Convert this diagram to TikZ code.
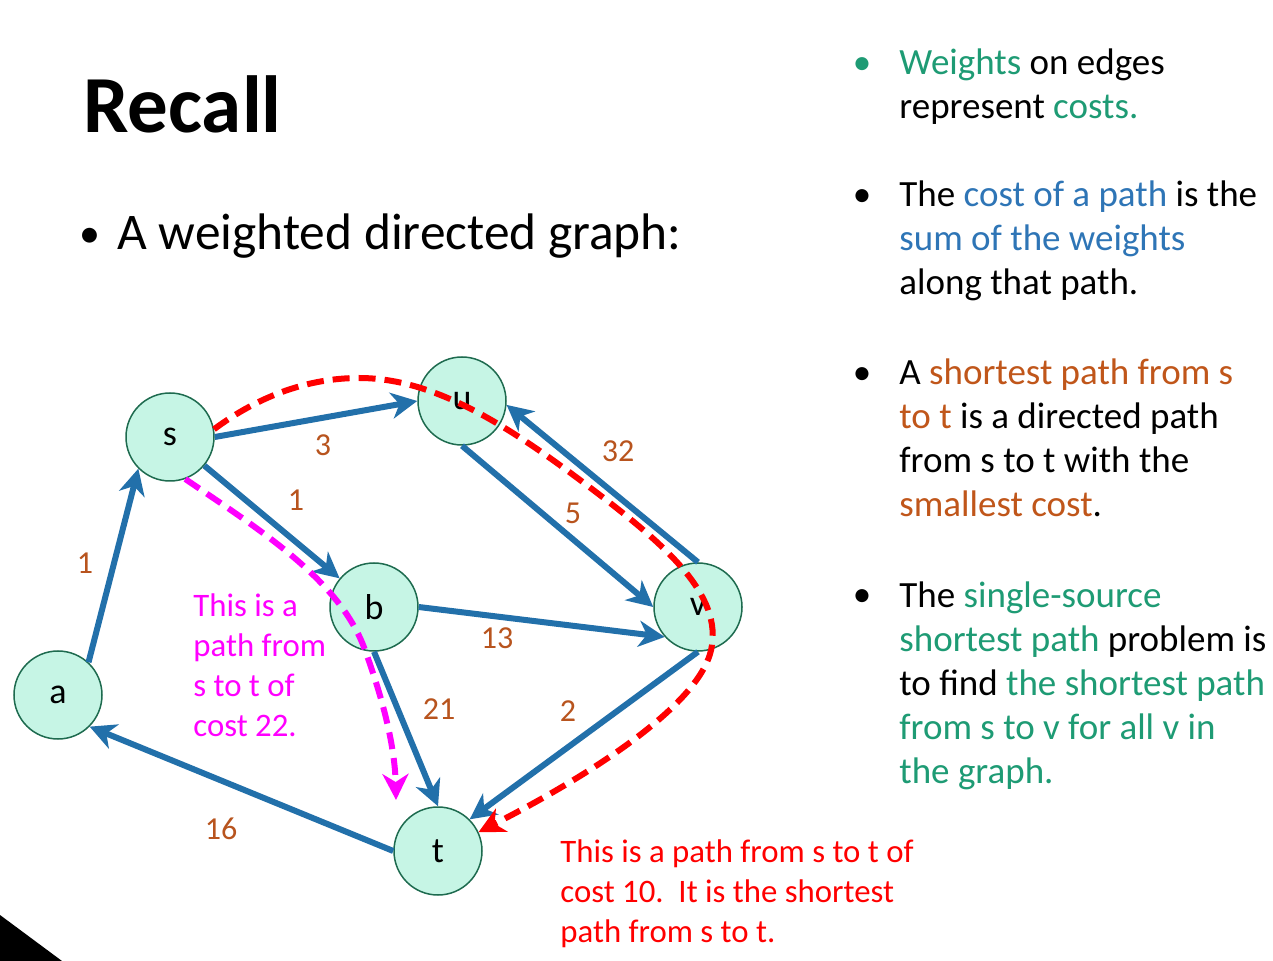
\documentclass[tikz,border=0pt]{standalone}
\usepackage{fontspec}
\setmainfont{Carlito}
\usepackage{xcolor}
\usetikzlibrary{arrows.meta}
\definecolor{edgeblue}{HTML}{2270AA}
\definecolor{nodefill}{HTML}{C6F5E5}
\definecolor{nodeline}{HTML}{1E6B4F}
\definecolor{wtbrown}{HTML}{B8541E}
\definecolor{txtgreen}{HTML}{1E9B74}
\definecolor{txtblue}{HTML}{2E75B6}
\definecolor{txtbrown}{HTML}{C0561A}
\definecolor{pathred}{HTML}{FF0000}
\definecolor{pathmag}{HTML}{FF00FF}

\begin{document}
\begin{tikzpicture}[x=0.5pt,y=-0.5pt]
\tikzstyle{every node}+=[inner sep=0pt]
\tikzstyle{vertex}=[circle,draw=nodeline,fill=nodefill,line width=0.75pt,minimum size=44pt,font=\fontsize{18}{22}\selectfont]
\tikzstyle{edge}=[draw=edgeblue,line width=3pt,-{Stealth[length=13pt,width=13pt,inset=4pt]}]
\tikzstyle{weight}=[text=wtbrown,font=\fontsize{16}{20}\selectfont]
\tikzstyle{redpath}=[draw=pathred,line width=3pt,dash pattern=on 8.5pt off 4.5pt,-{Stealth[length=13pt,width=13pt,inset=4pt]}]
\tikzstyle{magpath}=[draw=pathmag,line width=3pt,dash pattern=on 8.5pt off 4.5pt,-{Stealth[length=13pt,width=13pt,inset=4pt]}]
\tikzstyle{note}=[anchor=base west,align=left,font=\fontsize{16.4}{20}\selectfont]
\tikzstyle{point}=[anchor=base west,align=left,font=\fontsize{18.5}{22}\selectfont]
\tikzstyle{dot}=[anchor=base,font=\fontsize{18.5}{22}\selectfont]
\useasboundingbox (0,0) rectangle (1273,961);
\fill [white] (0,0) rectangle (1273,961);
\fill [black] (0,915) -- (62,961) -- (0,961) -- cycle;
\node [anchor=base west,font=\fontsize{40.5}{48}\selectfont\bfseries] (title) at (83,133) {Recall};
\node [anchor=base,font=\fontsize{21}{30}\selectfont] (subdot) at (90,248) {\textbullet};
\node [anchor=base west,font=\fontsize{25.7}{30}\selectfont] (sub) at (117,250) {A weighted directed graph:};
\node [vertex] (s) at (170,437) {s};
\node [vertex] (u) at (462,401) {u};
\node [vertex] (b) at (374,607) {b};
\node [vertex] (v) at (698,607) {v};
\node [vertex] (a) at (58,695) {a};
\node [vertex] (t) at (438,851) {t};
\draw [edge] (s.east) -- (u.west);
\draw [edge] (s) -- (b);
\draw [edge] (u.south) -- (v.west);
\draw [edge] (v.north) -- (u.-5);
\draw [edge] (b.east) -- (v.222);
\draw [edge] (b.south) -- (t.north);
\draw [edge] (v.south) -- (t.45);
\draw [edge] (t.west) -- (a.-45);
\draw [edge] (a.47) -- (s.225);
\node [weight] (w-su) at (323,445) {3};
\node [weight] (w-sb) at (296,500) {1};
\node [weight] (w-uv) at (573,513) {5};
\node [weight] (w-vu) at (618,451) {32};
\node [weight] (w-bv) at (497,638) {13};
\node [weight] (w-bt) at (439,709) {21};
\node [weight] (w-vt) at (568,711) {2};
\node [weight] (w-ta) at (221,829) {16};
\node [weight] (w-as) at (85,563) {1};
\draw [redpath] (s.10) .. controls (260,395) and (310,378) .. (359,378) .. controls (430,378) and (500,420) .. (580,480) .. controls (660,540) and (720,590) .. (712,645) .. controls (705,700) and (600,770) .. (t.25);
\coordinate (mtip) at (396,800);
\draw [magpath] (s.-70) .. controls (260,530) and (340,580) .. (365,650) .. controls (385,705) and (395,750) .. (mtip);
\node [note,text=pathmag] (magnote) at (193,736) {This is a\\path from\\s to t of\\cost 22.};
\node [note,text=pathred] (rednote) at (560,942) {This is a path from s to t of\\cost 10.\ \ It is the shortest\\path from s to t.};
\node [dot,text=txtgreen] (dot1) at (862,75) {\textbullet};
\node [point] (pt1) at (899,119) {\textcolor{txtgreen}{Weights} on edges\\represent \textcolor{txtgreen}{costs.}};
\node [dot] (dot2) at (862,207) {\textbullet};
\node [point] (pt2) at (899,295) {The \textcolor{txtblue}{cost of a path} is the\\\textcolor{txtblue}{sum of the weights}\\along that path.};
\node [dot] (dot3) at (862,385) {\textbullet};
\node [point] (pt3) at (899,517) {A \textcolor{txtbrown}{shortest path from s}\\\textcolor{txtbrown}{to t} is a directed path\\from s to t with the\\\textcolor{txtbrown}{smallest cost}.};
\node [dot] (dot4) at (862,607) {\textbullet};
\node [point] (pt4) at (899,783) {The \textcolor{txtgreen}{single-source}\\\textcolor{txtgreen}{shortest path} problem is\\to find \textcolor{txtgreen}{the shortest path}\\\textcolor{txtgreen}{from s to v for all v in}\\\textcolor{txtgreen}{the graph.}};
\end{tikzpicture}
\end{document}
